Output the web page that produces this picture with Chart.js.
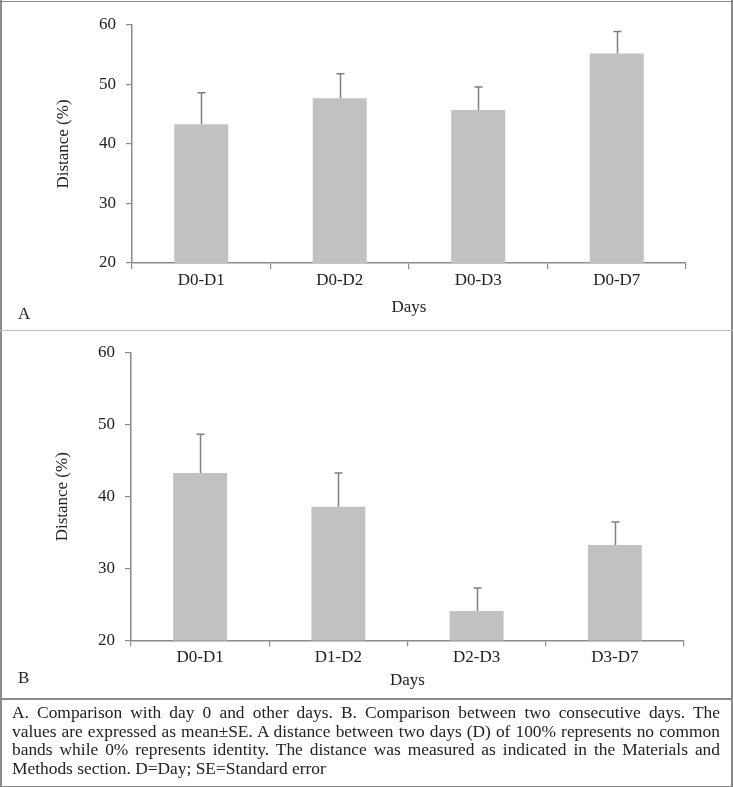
<!DOCTYPE html>
<html>
<head>
<meta charset="utf-8">
<script src="https://cdn.jsdelivr.net/npm/chart.js@4/dist/chart.umd.min.js"></script>
<style>
  html, body { margin: 0; padding: 0; background: #fff; }
  body { width: 733px; height: 787px; position: relative; overflow: hidden; font-family: "Liberation Serif", serif; color: #222; }
  .line { position: absolute; }
  #wrapA { position: absolute; left: 0; top: 0; width: 733px; height: 330px; }
  #wrapB { position: absolute; left: 0; top: 330px; width: 733px; height: 369px; }
  .plabel { position: absolute; font-size: 17px; line-height: 20px; color: #222; }
  #caption { position: absolute; left: 12px; top: 703px; width: 708px; font-size: 17.4px; line-height: 18.5px; color: #222; }
  #caption div { white-space: nowrap; text-align: justify; text-align-last: justify; }
  #caption div.last { text-align-last: left; }
</style>
</head>
<body>
<div id="wrapA"><canvas id="chartA"></canvas></div>
<div id="wrapB"><canvas id="chartB"></canvas></div>

<div class="line" style="left:0;top:1px;width:733px;height:1px;background:#8a8a8a"></div>
<div class="line" style="left:0;top:0;width:1.5px;height:787px;background:#8a8a8a"></div>
<div class="line" style="left:731px;top:0;width:1.5px;height:787px;background:#8a8a8a"></div>
<div class="line" style="left:0;top:329.5px;width:733px;height:1.5px;background:#bdbdbd"></div>
<div class="line" style="left:0;top:698px;width:733px;height:1.5px;background:#8a8a8a"></div>
<div class="line" style="left:0;top:785.5px;width:733px;height:1.5px;background:#8a8a8a"></div>

<div class="plabel" style="left:18px;top:304px">A</div>
<div class="plabel" style="left:18px;top:668px">B</div>

<div id="caption">
  <div>A. Comparison with day 0 and other days. B. Comparison between two consecutive days. The</div>
  <div>values are expressed as mean±SE. A distance between two days (D) of 100% represents no common</div>
  <div>bands while 0% represents identity. The distance was measured as indicated in the Materials and</div>
  <div class="last">Methods section. D=Day; SE=Standard error</div>
</div>

<script>
// ---- data ----
const categoriesA = ['D0-D1', 'D0-D2', 'D0-D3', 'D0-D7'];
const meanA = [43.3, 47.7, 45.7, 55.2];
const seA = [5.3, 4.1, 3.9, 3.7];

const categoriesB = ['D0-D1', 'D1-D2', 'D2-D3', 'D3-D7'];
const meanB = [43.3, 38.6, 24.1, 33.3];
const seB = [5.4, 4.7, 3.2, 3.2];

const yTicks = [20, 30, 40, 50, 60];
const xTitle = 'Days';
const yTitle = 'Distance (%)';

// ---- styling ----
const FONT = "'Liberation Serif', serif";
const AXIS = '#8c8c8c';
const BAR = 'rgb(192,193,192)';
const ERR = '#7f7f7f';

const errorBars = {
  id: 'errorBars',
  afterDatasetsDraw(chart, args, opts) {
    const ctx = chart.ctx;
    const meta = chart.getDatasetMeta(0);
    const ys = chart.scales.y;
    const means = chart.data.datasets[0].data;
    const ses = opts.se;
    ctx.save();
    ctx.strokeStyle = ERR;
    ctx.lineWidth = 1.5;
    meta.data.forEach((bar, i) => {
      const x = Math.round(bar.x) + 0.5;
      const y0 = ys.getPixelForValue(means[i]);
      const y1 = ys.getPixelForValue(means[i] + ses[i]);
      ctx.beginPath();
      ctx.moveTo(x, y0);
      ctx.lineTo(x, y1);
      ctx.moveTo(x - 4, y1);
      ctx.lineTo(x + 4, y1);
      ctx.stroke();
    });
    ctx.restore();
  }
};

function makeChart(id, cats, means, ses, cfg) {
  return new Chart(document.getElementById(id), {
    type: 'bar',
    data: {
      labels: cats,
      datasets: [{
        data: means,
        backgroundColor: BAR,
        borderWidth: 0,
        barPercentage: 0.39,
        categoryPercentage: 1.0
      }]
    },
    options: {
      responsive: true,
      maintainAspectRatio: false,
      animation: false,
      events: [],
      layout: { padding: { left: cfg.padLeft, right: cfg.padRight, top: cfg.padTop, bottom: cfg.padBottom } },
      plugins: {
        legend: { display: false },
        tooltip: { enabled: false },
        errorBars: { se: ses }
      },
      scales: {
        x: {
          offset: true,
          grid: { display: true, offset: true, drawOnChartArea: false, drawTicks: true, tickLength: 6, color: AXIS, lineWidth: 1.2 },
          border: { display: true, color: AXIS, width: 1.5 },
          ticks: { color: '#222', padding: 1, font: { family: FONT, size: 17 } },
          title: { display: true, text: xTitle, color: '#222', padding: 0, font: { family: FONT, size: 17 } },
          afterFit(scale) { scale.height = cfg.xHeight; }
        },
        y: {
          min: 20, max: 60,
          afterBuildTicks(scale) { scale.ticks = yTicks.map(v => ({ value: v })); },
          grid: { display: true, drawOnChartArea: false, drawTicks: true, tickLength: 6, color: AXIS, lineWidth: 1.2 },
          border: { display: true, color: AXIS, width: 1.5 },
          ticks: { color: '#222', padding: 10, font: { family: FONT, size: 17 } },
          title: { display: true, text: yTitle, color: '#222', padding: 0, font: { family: FONT, size: 17 } },
          afterFit(scale) { scale.width = cfg.yWidth; }
        }
      }
    },
    plugins: [errorBars]
  });
}

makeChart('chartA', categoriesA, meanA, seA, {
  padLeft: 53, padRight: 47, padTop: 25, padBottom: 12, xHeight: 55, yWidth: 79
});
makeChart('chartB', categoriesB, meanB, seB, {
  padLeft: 52, padRight: 49, padTop: 23, padBottom: 8, xHeight: 50.5, yWidth: 79
});
</script>
</body>
</html>
